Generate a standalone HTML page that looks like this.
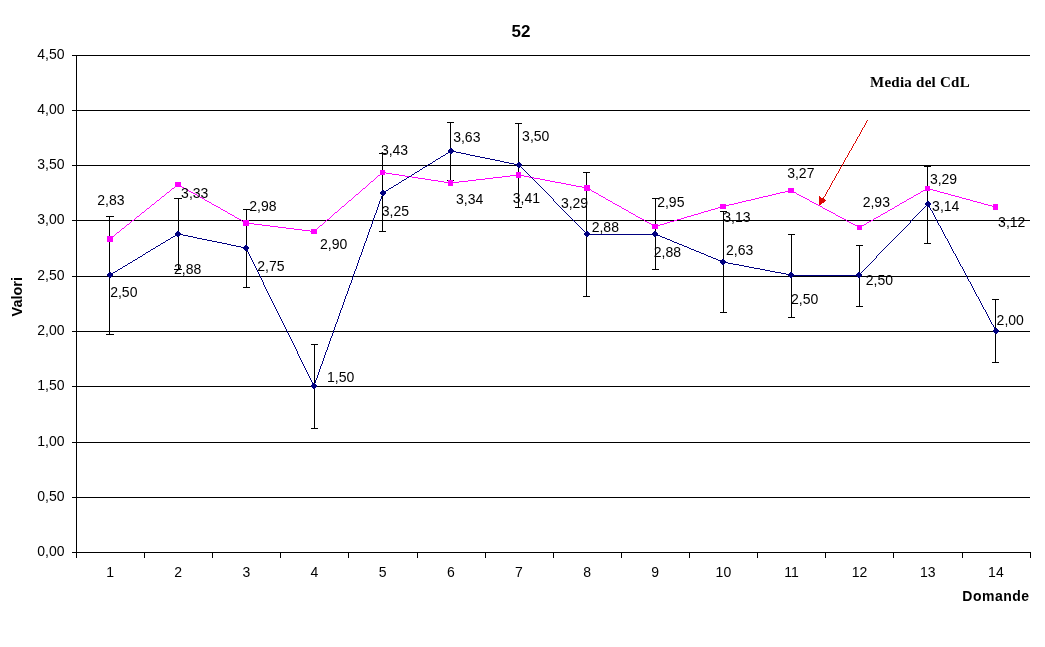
<!DOCTYPE html><html><head><meta charset="utf-8"><style>html,body{margin:0;padding:0;background:#fff;}svg{display:block;will-change:transform;}text{font-family:"Liberation Sans",sans-serif;}</style></head><body>
<svg width="1045" height="647" viewBox="0 0 1045 647">
<rect x="0" y="0" width="1045" height="647" fill="#fff"/>
<g shape-rendering="crispEdges" stroke="#000" stroke-width="1" fill="none">
<line x1="72" y1="55.5" x2="1030" y2="55.5"/>
<line x1="72" y1="110.5" x2="1030" y2="110.5"/>
<line x1="72" y1="165.5" x2="1030" y2="165.5"/>
<line x1="72" y1="220.5" x2="1030" y2="220.5"/>
<line x1="72" y1="276.5" x2="1030" y2="276.5"/>
<line x1="72" y1="331.5" x2="1030" y2="331.5"/>
<line x1="72" y1="386.5" x2="1030" y2="386.5"/>
<line x1="72" y1="442.5" x2="1030" y2="442.5"/>
<line x1="72" y1="497.5" x2="1030" y2="497.5"/>
<line x1="72" y1="552.5" x2="1031" y2="552.5"/>
<line x1="76.5" y1="55" x2="76.5" y2="558"/>
<line x1="144.5" y1="552" x2="144.5" y2="558"/>
<line x1="212.5" y1="552" x2="212.5" y2="558"/>
<line x1="280.5" y1="552" x2="280.5" y2="558"/>
<line x1="348.5" y1="552" x2="348.5" y2="558"/>
<line x1="417.5" y1="552" x2="417.5" y2="558"/>
<line x1="485.5" y1="552" x2="485.5" y2="558"/>
<line x1="553.5" y1="552" x2="553.5" y2="558"/>
<line x1="621.5" y1="552" x2="621.5" y2="558"/>
<line x1="689.5" y1="552" x2="689.5" y2="558"/>
<line x1="757.5" y1="552" x2="757.5" y2="558"/>
<line x1="825.5" y1="552" x2="825.5" y2="558"/>
<line x1="893.5" y1="552" x2="893.5" y2="558"/>
<line x1="962.5" y1="552" x2="962.5" y2="558"/>
<line x1="1030.5" y1="552" x2="1030.5" y2="558"/>
<line x1="109.5" y1="216.5" x2="109.5" y2="334.5"/>
<line x1="106" y1="216.5" x2="114" y2="216.5"/>
<line x1="106" y1="334.5" x2="114" y2="334.5"/>
<line x1="178.5" y1="198.5" x2="178.5" y2="269.5"/>
<line x1="174" y1="198.5" x2="182" y2="198.5"/>
<line x1="174" y1="269.5" x2="182" y2="269.5"/>
<line x1="246.5" y1="209.5" x2="246.5" y2="287.5"/>
<line x1="243" y1="209.5" x2="250" y2="209.5"/>
<line x1="243" y1="287.5" x2="250" y2="287.5"/>
<line x1="314.5" y1="344.5" x2="314.5" y2="428.5"/>
<line x1="311" y1="344.5" x2="318" y2="344.5"/>
<line x1="311" y1="428.5" x2="318" y2="428.5"/>
<line x1="382.5" y1="153.5" x2="382.5" y2="231.5"/>
<line x1="379" y1="153.5" x2="386" y2="153.5"/>
<line x1="379" y1="231.5" x2="386" y2="231.5"/>
<line x1="450.5" y1="122.5" x2="450.5" y2="180.5"/>
<line x1="447" y1="122.5" x2="454" y2="122.5"/>
<line x1="447" y1="180.5" x2="454" y2="180.5"/>
<line x1="518.5" y1="123.5" x2="518.5" y2="207.5"/>
<line x1="515" y1="123.5" x2="522" y2="123.5"/>
<line x1="515" y1="207.5" x2="522" y2="207.5"/>
<line x1="586.5" y1="172.5" x2="586.5" y2="296.5"/>
<line x1="583" y1="172.5" x2="590" y2="172.5"/>
<line x1="583" y1="296.5" x2="590" y2="296.5"/>
<line x1="655.5" y1="198.5" x2="655.5" y2="269.5"/>
<line x1="652" y1="198.5" x2="659" y2="198.5"/>
<line x1="652" y1="269.5" x2="659" y2="269.5"/>
<line x1="723.5" y1="211.5" x2="723.5" y2="312.5"/>
<line x1="720" y1="211.5" x2="727" y2="211.5"/>
<line x1="720" y1="312.5" x2="727" y2="312.5"/>
<line x1="791.5" y1="234.5" x2="791.5" y2="317.5"/>
<line x1="788" y1="234.5" x2="795" y2="234.5"/>
<line x1="788" y1="317.5" x2="795" y2="317.5"/>
<line x1="859.5" y1="245.5" x2="859.5" y2="306.5"/>
<line x1="856" y1="245.5" x2="863" y2="245.5"/>
<line x1="856" y1="306.5" x2="863" y2="306.5"/>
<line x1="927.5" y1="166.5" x2="927.5" y2="243.5"/>
<line x1="924" y1="166.5" x2="931" y2="166.5"/>
<line x1="924" y1="243.5" x2="931" y2="243.5"/>
<line x1="995.5" y1="299.5" x2="995.5" y2="362.5"/>
<line x1="992" y1="299.5" x2="999" y2="299.5"/>
<line x1="992" y1="362.5" x2="999" y2="362.5"/>
</g>
<path d="M382 172h4v1h-4zM381 173h1v1h-1zM386 173h6v1h-6zM380 174h1v1h-1zM392 174h7v1h-7zM378 175h2v1h-2zM399 175h6v1h-6zM510 175h14v1h-14zM377 176h1v1h-1zM405 176h7v1h-7zM502 176h8v1h-8zM524 176h5v1h-5zM376 177h1v1h-1zM412 177h6v1h-6zM493 177h9v1h-9zM529 177h5v1h-5zM375 178h1v1h-1zM418 178h7v1h-7zM485 178h8v1h-8zM534 178h6v1h-6zM374 179h1v1h-1zM425 179h6v1h-6zM476 179h9v1h-9zM540 179h5v1h-5zM373 180h1v1h-1zM431 180h7v1h-7zM468 180h8v1h-8zM545 180h5v1h-5zM371 181h2v1h-2zM438 181h6v1h-6zM459 181h9v1h-9zM550 181h5v1h-5zM370 182h1v1h-1zM444 182h6v1h-6zM451 182h8v1h-8zM555 182h6v1h-6zM369 183h1v1h-1zM450 183h1v1h-1zM561 183h5v1h-5zM177 184h2v1h-2zM368 184h1v1h-1zM566 184h5v1h-5zM176 185h1v1h-1zM179 185h2v1h-2zM367 185h1v1h-1zM571 185h5v1h-5zM175 186h1v1h-1zM181 186h1v1h-1zM366 186h1v1h-1zM576 186h6v1h-6zM174 187h1v1h-1zM182 187h2v1h-2zM365 187h1v1h-1zM582 187h5v1h-5zM172 188h2v1h-2zM184 188h2v1h-2zM363 188h2v1h-2zM587 188h2v1h-2zM927 188h2v1h-2zM171 189h1v1h-1zM186 189h2v1h-2zM362 189h1v1h-1zM589 189h2v1h-2zM925 189h2v1h-2zM929 189h4v1h-4zM170 190h1v1h-1zM188 190h1v1h-1zM361 190h1v1h-1zM591 190h1v1h-1zM789 190h3v1h-3zM923 190h2v1h-2zM933 190h4v1h-4zM169 191h1v1h-1zM189 191h2v1h-2zM360 191h1v1h-1zM592 191h2v1h-2zM785 191h4v1h-4zM792 191h2v1h-2zM921 191h2v1h-2zM937 191h3v1h-3zM167 192h2v1h-2zM191 192h2v1h-2zM359 192h1v1h-1zM594 192h2v1h-2zM780 192h5v1h-5zM794 192h2v1h-2zM920 192h1v1h-1zM940 192h4v1h-4zM166 193h1v1h-1zM193 193h2v1h-2zM358 193h1v1h-1zM596 193h2v1h-2zM776 193h4v1h-4zM796 193h1v1h-1zM918 193h2v1h-2zM944 193h4v1h-4zM165 194h1v1h-1zM195 194h2v1h-2zM356 194h2v1h-2zM598 194h1v1h-1zM772 194h4v1h-4zM797 194h2v1h-2zM916 194h2v1h-2zM948 194h3v1h-3zM164 195h1v1h-1zM197 195h1v1h-1zM355 195h1v1h-1zM599 195h2v1h-2zM768 195h4v1h-4zM799 195h2v1h-2zM914 195h2v1h-2zM951 195h4v1h-4zM162 196h2v1h-2zM198 196h2v1h-2zM354 196h1v1h-1zM601 196h2v1h-2zM763 196h5v1h-5zM801 196h2v1h-2zM913 196h1v1h-1zM955 196h4v1h-4zM161 197h1v1h-1zM200 197h2v1h-2zM353 197h1v1h-1zM603 197h2v1h-2zM759 197h4v1h-4zM803 197h2v1h-2zM911 197h2v1h-2zM959 197h3v1h-3zM160 198h1v1h-1zM202 198h2v1h-2zM352 198h1v1h-1zM605 198h1v1h-1zM755 198h4v1h-4zM805 198h2v1h-2zM909 198h2v1h-2zM962 198h4v1h-4zM159 199h1v1h-1zM204 199h1v1h-1zM351 199h1v1h-1zM606 199h2v1h-2zM751 199h4v1h-4zM807 199h2v1h-2zM907 199h2v1h-2zM966 199h4v1h-4zM157 200h2v1h-2zM205 200h2v1h-2zM349 200h2v1h-2zM608 200h2v1h-2zM746 200h5v1h-5zM809 200h1v1h-1zM906 200h1v1h-1zM970 200h3v1h-3zM156 201h1v1h-1zM207 201h2v1h-2zM348 201h1v1h-1zM610 201h2v1h-2zM742 201h4v1h-4zM810 201h2v1h-2zM904 201h2v1h-2zM973 201h4v1h-4zM155 202h1v1h-1zM209 202h2v1h-2zM347 202h1v1h-1zM612 202h1v1h-1zM738 202h4v1h-4zM812 202h2v1h-2zM902 202h2v1h-2zM977 202h4v1h-4zM154 203h1v1h-1zM211 203h1v1h-1zM346 203h1v1h-1zM613 203h2v1h-2zM734 203h4v1h-4zM814 203h2v1h-2zM900 203h2v1h-2zM981 203h3v1h-3zM152 204h2v1h-2zM212 204h2v1h-2zM345 204h1v1h-1zM615 204h2v1h-2zM729 204h5v1h-5zM816 204h2v1h-2zM899 204h1v1h-1zM984 204h4v1h-4zM151 205h1v1h-1zM214 205h2v1h-2zM344 205h1v1h-1zM617 205h2v1h-2zM725 205h4v1h-4zM818 205h2v1h-2zM897 205h2v1h-2zM988 205h4v1h-4zM150 206h1v1h-1zM216 206h2v1h-2zM342 206h2v1h-2zM619 206h2v1h-2zM721 206h4v1h-4zM820 206h2v1h-2zM895 206h2v1h-2zM992 206h3v1h-3zM149 207h1v1h-1zM218 207h2v1h-2zM341 207h1v1h-1zM621 207h1v1h-1zM718 207h3v1h-3zM822 207h1v1h-1zM894 207h1v1h-1zM995 207h1v1h-1zM147 208h2v1h-2zM220 208h1v1h-1zM340 208h1v1h-1zM622 208h2v1h-2zM715 208h3v1h-3zM823 208h2v1h-2zM892 208h2v1h-2zM146 209h1v1h-1zM221 209h2v1h-2zM339 209h1v1h-1zM624 209h2v1h-2zM711 209h4v1h-4zM825 209h2v1h-2zM890 209h2v1h-2zM145 210h1v1h-1zM223 210h2v1h-2zM338 210h1v1h-1zM626 210h2v1h-2zM708 210h3v1h-3zM827 210h2v1h-2zM888 210h2v1h-2zM144 211h1v1h-1zM225 211h2v1h-2zM337 211h1v1h-1zM628 211h1v1h-1zM704 211h4v1h-4zM829 211h2v1h-2zM887 211h1v1h-1zM142 212h2v1h-2zM227 212h1v1h-1zM335 212h2v1h-2zM629 212h2v1h-2zM701 212h3v1h-3zM831 212h2v1h-2zM885 212h2v1h-2zM141 213h1v1h-1zM228 213h2v1h-2zM334 213h1v1h-1zM631 213h2v1h-2zM698 213h3v1h-3zM833 213h2v1h-2zM883 213h2v1h-2zM140 214h1v1h-1zM230 214h2v1h-2zM333 214h1v1h-1zM633 214h2v1h-2zM694 214h4v1h-4zM835 214h1v1h-1zM881 214h2v1h-2zM139 215h1v1h-1zM232 215h2v1h-2zM332 215h1v1h-1zM635 215h1v1h-1zM691 215h3v1h-3zM836 215h2v1h-2zM880 215h1v1h-1zM137 216h2v1h-2zM234 216h1v1h-1zM331 216h1v1h-1zM636 216h2v1h-2zM687 216h4v1h-4zM838 216h2v1h-2zM878 216h2v1h-2zM136 217h1v1h-1zM235 217h2v1h-2zM330 217h1v1h-1zM638 217h2v1h-2zM684 217h3v1h-3zM840 217h2v1h-2zM876 217h2v1h-2zM135 218h1v1h-1zM237 218h2v1h-2zM329 218h1v1h-1zM640 218h2v1h-2zM681 218h3v1h-3zM842 218h2v1h-2zM874 218h2v1h-2zM134 219h1v1h-1zM239 219h2v1h-2zM327 219h2v1h-2zM642 219h2v1h-2zM677 219h4v1h-4zM844 219h2v1h-2zM873 219h1v1h-1zM132 220h2v1h-2zM241 220h1v1h-1zM326 220h1v1h-1zM644 220h1v1h-1zM674 220h3v1h-3zM846 220h1v1h-1zM871 220h2v1h-2zM131 221h1v1h-1zM242 221h2v1h-2zM325 221h1v1h-1zM645 221h2v1h-2zM670 221h4v1h-4zM847 221h2v1h-2zM869 221h2v1h-2zM130 222h1v1h-1zM244 222h2v1h-2zM324 222h1v1h-1zM647 222h2v1h-2zM667 222h3v1h-3zM849 222h2v1h-2zM867 222h2v1h-2zM129 223h1v1h-1zM246 223h8v1h-8zM323 223h1v1h-1zM649 223h2v1h-2zM664 223h3v1h-3zM851 223h2v1h-2zM866 223h1v1h-1zM127 224h2v1h-2zM254 224h8v1h-8zM322 224h1v1h-1zM651 224h1v1h-1zM660 224h4v1h-4zM853 224h2v1h-2zM864 224h2v1h-2zM126 225h1v1h-1zM262 225h8v1h-8zM320 225h2v1h-2zM652 225h2v1h-2zM657 225h3v1h-3zM855 225h2v1h-2zM862 225h2v1h-2zM125 226h1v1h-1zM270 226h8v1h-8zM319 226h1v1h-1zM654 226h3v1h-3zM857 226h2v1h-2zM860 226h2v1h-2zM124 227h1v1h-1zM278 227h8v1h-8zM318 227h1v1h-1zM859 227h1v1h-1zM122 228h2v1h-2zM286 228h8v1h-8zM317 228h1v1h-1zM121 229h1v1h-1zM294 229h8v1h-8zM316 229h1v1h-1zM120 230h1v1h-1zM302 230h8v1h-8zM315 230h1v1h-1zM119 231h1v1h-1zM310 231h5v1h-5zM117 232h2v1h-2zM116 233h1v1h-1zM115 234h1v1h-1zM114 235h1v1h-1zM112 236h2v1h-2zM111 237h1v1h-1zM110 238h1v1h-1z" fill="#ff00ff" shape-rendering="crispEdges"/>
<path d="M451 150h1v1h-1zM449 151h7v1h-7zM448 152h1v1h-1zM456 152h5v1h-5zM446 153h2v1h-2zM461 153h5v1h-5zM445 154h1v1h-1zM466 154h4v1h-4zM443 155h2v1h-2zM470 155h5v1h-5zM441 156h2v1h-2zM475 156h5v1h-5zM440 157h1v1h-1zM480 157h5v1h-5zM438 158h2v1h-2zM485 158h5v1h-5zM436 159h2v1h-2zM490 159h5v1h-5zM435 160h1v1h-1zM495 160h5v1h-5zM433 161h2v1h-2zM500 161h4v1h-4zM432 162h1v1h-1zM504 162h5v1h-5zM430 163h2v1h-2zM509 163h5v1h-5zM428 164h2v1h-2zM514 164h5v1h-5zM427 165h1v1h-1zM519 165h1v1h-1zM425 166h2v1h-2zM520 166h1v1h-1zM423 167h2v1h-2zM521 167h1v1h-1zM422 168h1v1h-1zM522 168h1v1h-1zM420 169h2v1h-2zM523 169h1v1h-1zM419 170h1v1h-1zM524 170h1v1h-1zM417 171h2v1h-2zM525 171h1v1h-1zM415 172h2v1h-2zM526 172h1v1h-1zM414 173h1v1h-1zM527 173h1v1h-1zM412 174h2v1h-2zM528 174h1v1h-1zM411 175h1v1h-1zM529 175h1v1h-1zM409 176h2v1h-2zM530 176h1v1h-1zM407 177h2v1h-2zM531 177h1v1h-1zM406 178h1v1h-1zM532 178h1v1h-1zM404 179h2v1h-2zM533 179h1v1h-1zM402 180h2v1h-2zM534 180h1v1h-1zM401 181h1v1h-1zM535 181h1v1h-1zM399 182h2v1h-2zM536 182h1v1h-1zM398 183h1v1h-1zM537 183h1v1h-1zM396 184h2v1h-2zM538 184h1v1h-1zM394 185h2v1h-2zM539 185h1v1h-1zM393 186h1v1h-1zM540 186h1v1h-1zM391 187h2v1h-2zM541 187h1v1h-1zM389 188h2v1h-2zM542 188h1v1h-1zM388 189h1v1h-1zM543 189h1v1h-1zM386 190h2v1h-2zM544 190h1v1h-1zM385 191h1v1h-1zM545 191h1v1h-1zM383 192h2v1h-2zM546 192h1v1h-1zM382 193h1v1h-1zM547 193h1v1h-1zM382 194h1v1h-1zM548 194h1v1h-1zM382 195h1v1h-1zM549 195h1v1h-1zM381 196h1v1h-1zM550 196h1v1h-1zM381 197h1v1h-1zM551 197h1v1h-1zM381 198h1v1h-1zM552 198h1v1h-1zM380 199h1v1h-1zM553 199h1v1h-1zM380 200h1v1h-1zM553 200h1v1h-1zM379 201h1v1h-1zM554 201h1v1h-1zM379 202h1v1h-1zM555 202h1v1h-1zM379 203h1v1h-1zM556 203h1v1h-1zM378 204h1v1h-1zM557 204h1v1h-1zM927 204h2v1h-2zM378 205h1v1h-1zM558 205h1v1h-1zM926 205h1v1h-1zM928 205h1v1h-1zM378 206h1v1h-1zM559 206h1v1h-1zM925 206h1v1h-1zM929 206h1v1h-1zM377 207h1v1h-1zM560 207h1v1h-1zM924 207h1v1h-1zM929 207h1v1h-1zM377 208h1v1h-1zM561 208h1v1h-1zM923 208h1v1h-1zM930 208h1v1h-1zM377 209h1v1h-1zM562 209h1v1h-1zM922 209h1v1h-1zM930 209h1v1h-1zM376 210h1v1h-1zM563 210h1v1h-1zM921 210h1v1h-1zM931 210h1v1h-1zM376 211h1v1h-1zM564 211h1v1h-1zM920 211h1v1h-1zM932 211h1v1h-1zM376 212h1v1h-1zM565 212h1v1h-1zM919 212h1v1h-1zM932 212h1v1h-1zM375 213h1v1h-1zM566 213h1v1h-1zM918 213h1v1h-1zM933 213h1v1h-1zM375 214h1v1h-1zM567 214h1v1h-1zM917 214h1v1h-1zM933 214h1v1h-1zM374 215h1v1h-1zM568 215h1v1h-1zM916 215h1v1h-1zM934 215h1v1h-1zM374 216h1v1h-1zM569 216h1v1h-1zM915 216h1v1h-1zM934 216h1v1h-1zM374 217h1v1h-1zM570 217h1v1h-1zM914 217h1v1h-1zM935 217h1v1h-1zM373 218h1v1h-1zM571 218h1v1h-1zM913 218h1v1h-1zM935 218h1v1h-1zM373 219h1v1h-1zM572 219h1v1h-1zM912 219h1v1h-1zM936 219h1v1h-1zM373 220h1v1h-1zM573 220h1v1h-1zM911 220h1v1h-1zM936 220h1v1h-1zM372 221h1v1h-1zM574 221h1v1h-1zM910 221h1v1h-1zM937 221h1v1h-1zM372 222h1v1h-1zM575 222h1v1h-1zM910 222h1v1h-1zM937 222h1v1h-1zM372 223h1v1h-1zM576 223h1v1h-1zM909 223h1v1h-1zM938 223h1v1h-1zM371 224h1v1h-1zM577 224h1v1h-1zM908 224h1v1h-1zM938 224h1v1h-1zM371 225h1v1h-1zM578 225h1v1h-1zM907 225h1v1h-1zM939 225h1v1h-1zM371 226h1v1h-1zM579 226h1v1h-1zM906 226h1v1h-1zM940 226h1v1h-1zM370 227h1v1h-1zM580 227h1v1h-1zM905 227h1v1h-1zM940 227h1v1h-1zM370 228h1v1h-1zM581 228h1v1h-1zM904 228h1v1h-1zM941 228h1v1h-1zM369 229h1v1h-1zM582 229h1v1h-1zM903 229h1v1h-1zM941 229h1v1h-1zM369 230h1v1h-1zM583 230h1v1h-1zM902 230h1v1h-1zM942 230h1v1h-1zM369 231h1v1h-1zM584 231h1v1h-1zM901 231h1v1h-1zM942 231h1v1h-1zM368 232h1v1h-1zM585 232h1v1h-1zM900 232h1v1h-1zM943 232h1v1h-1zM178 233h1v1h-1zM368 233h1v1h-1zM586 233h1v1h-1zM899 233h1v1h-1zM943 233h1v1h-1zM176 234h7v1h-7zM368 234h1v1h-1zM587 234h70v1h-70zM898 234h1v1h-1zM944 234h1v1h-1zM175 235h1v1h-1zM183 235h5v1h-5zM367 235h1v1h-1zM657 235h3v1h-3zM897 235h1v1h-1zM944 235h1v1h-1zM173 236h2v1h-2zM188 236h5v1h-5zM367 236h1v1h-1zM660 236h2v1h-2zM896 236h1v1h-1zM945 236h1v1h-1zM171 237h2v1h-2zM193 237h4v1h-4zM367 237h1v1h-1zM662 237h3v1h-3zM895 237h1v1h-1zM945 237h1v1h-1zM170 238h1v1h-1zM197 238h5v1h-5zM366 238h1v1h-1zM665 238h2v1h-2zM894 238h1v1h-1zM946 238h1v1h-1zM168 239h2v1h-2zM202 239h5v1h-5zM366 239h1v1h-1zM667 239h3v1h-3zM893 239h1v1h-1zM947 239h1v1h-1zM166 240h2v1h-2zM207 240h5v1h-5zM366 240h1v1h-1zM670 240h2v1h-2zM892 240h1v1h-1zM947 240h1v1h-1zM165 241h1v1h-1zM212 241h5v1h-5zM365 241h1v1h-1zM672 241h2v1h-2zM891 241h1v1h-1zM948 241h1v1h-1zM163 242h2v1h-2zM217 242h5v1h-5zM365 242h1v1h-1zM674 242h3v1h-3zM890 242h1v1h-1zM948 242h1v1h-1zM161 243h2v1h-2zM222 243h5v1h-5zM364 243h1v1h-1zM677 243h2v1h-2zM889 243h1v1h-1zM949 243h1v1h-1zM160 244h1v1h-1zM227 244h4v1h-4zM364 244h1v1h-1zM679 244h3v1h-3zM888 244h1v1h-1zM949 244h1v1h-1zM158 245h2v1h-2zM231 245h5v1h-5zM364 245h1v1h-1zM682 245h2v1h-2zM887 245h1v1h-1zM950 245h1v1h-1zM156 246h2v1h-2zM236 246h5v1h-5zM363 246h1v1h-1zM684 246h3v1h-3zM886 246h1v1h-1zM950 246h1v1h-1zM155 247h1v1h-1zM241 247h5v1h-5zM363 247h1v1h-1zM687 247h2v1h-2zM885 247h1v1h-1zM951 247h1v1h-1zM153 248h2v1h-2zM246 248h1v1h-1zM363 248h1v1h-1zM689 248h2v1h-2zM884 248h1v1h-1zM951 248h1v1h-1zM151 249h2v1h-2zM246 249h1v1h-1zM362 249h1v1h-1zM691 249h3v1h-3zM883 249h1v1h-1zM952 249h1v1h-1zM150 250h1v1h-1zM247 250h1v1h-1zM362 250h1v1h-1zM694 250h2v1h-2zM882 250h1v1h-1zM952 250h1v1h-1zM148 251h2v1h-2zM247 251h1v1h-1zM362 251h1v1h-1zM696 251h3v1h-3zM881 251h1v1h-1zM953 251h1v1h-1zM146 252h2v1h-2zM248 252h1v1h-1zM361 252h1v1h-1zM699 252h2v1h-2zM880 252h1v1h-1zM953 252h1v1h-1zM145 253h1v1h-1zM248 253h1v1h-1zM361 253h1v1h-1zM701 253h3v1h-3zM879 253h1v1h-1zM954 253h1v1h-1zM143 254h2v1h-2zM249 254h1v1h-1zM361 254h1v1h-1zM704 254h2v1h-2zM878 254h1v1h-1zM955 254h1v1h-1zM142 255h1v1h-1zM249 255h1v1h-1zM360 255h1v1h-1zM706 255h2v1h-2zM877 255h1v1h-1zM955 255h1v1h-1zM140 256h2v1h-2zM250 256h1v1h-1zM360 256h1v1h-1zM708 256h3v1h-3zM876 256h1v1h-1zM956 256h1v1h-1zM138 257h2v1h-2zM250 257h1v1h-1zM359 257h1v1h-1zM711 257h2v1h-2zM876 257h1v1h-1zM956 257h1v1h-1zM137 258h1v1h-1zM251 258h1v1h-1zM359 258h1v1h-1zM713 258h3v1h-3zM875 258h1v1h-1zM957 258h1v1h-1zM135 259h2v1h-2zM251 259h1v1h-1zM359 259h1v1h-1zM716 259h2v1h-2zM874 259h1v1h-1zM957 259h1v1h-1zM133 260h2v1h-2zM252 260h1v1h-1zM358 260h1v1h-1zM718 260h3v1h-3zM873 260h1v1h-1zM958 260h1v1h-1zM132 261h1v1h-1zM252 261h1v1h-1zM358 261h1v1h-1zM721 261h2v1h-2zM872 261h1v1h-1zM958 261h1v1h-1zM130 262h2v1h-2zM253 262h1v1h-1zM358 262h1v1h-1zM723 262h5v1h-5zM871 262h1v1h-1zM959 262h1v1h-1zM128 263h2v1h-2zM253 263h1v1h-1zM357 263h1v1h-1zM728 263h5v1h-5zM870 263h1v1h-1zM959 263h1v1h-1zM127 264h1v1h-1zM254 264h1v1h-1zM357 264h1v1h-1zM733 264h6v1h-6zM869 264h1v1h-1zM960 264h1v1h-1zM125 265h2v1h-2zM254 265h1v1h-1zM357 265h1v1h-1zM739 265h5v1h-5zM868 265h1v1h-1zM960 265h1v1h-1zM123 266h2v1h-2zM255 266h1v1h-1zM356 266h1v1h-1zM744 266h5v1h-5zM867 266h1v1h-1zM961 266h1v1h-1zM122 267h1v1h-1zM255 267h1v1h-1zM356 267h1v1h-1zM749 267h5v1h-5zM866 267h1v1h-1zM962 267h1v1h-1zM120 268h2v1h-2zM256 268h1v1h-1zM356 268h1v1h-1zM754 268h6v1h-6zM865 268h1v1h-1zM962 268h1v1h-1zM118 269h2v1h-2zM256 269h1v1h-1zM355 269h1v1h-1zM760 269h5v1h-5zM864 269h1v1h-1zM963 269h1v1h-1zM117 270h1v1h-1zM257 270h1v1h-1zM355 270h1v1h-1zM765 270h5v1h-5zM863 270h1v1h-1zM963 270h1v1h-1zM115 271h2v1h-2zM257 271h1v1h-1zM354 271h1v1h-1zM770 271h5v1h-5zM862 271h1v1h-1zM964 271h1v1h-1zM113 272h2v1h-2zM258 272h1v1h-1zM354 272h1v1h-1zM775 272h6v1h-6zM861 272h1v1h-1zM964 272h1v1h-1zM112 273h1v1h-1zM258 273h1v1h-1zM354 273h1v1h-1zM781 273h5v1h-5zM860 273h1v1h-1zM965 273h1v1h-1zM110 274h2v1h-2zM259 274h1v1h-1zM353 274h1v1h-1zM786 274h5v1h-5zM859 274h1v1h-1zM965 274h1v1h-1zM259 275h1v1h-1zM353 275h1v1h-1zM791 275h69v1h-69zM966 275h1v1h-1zM260 276h1v1h-1zM353 276h1v1h-1zM966 276h1v1h-1zM260 277h1v1h-1zM352 277h1v1h-1zM967 277h1v1h-1zM261 278h1v1h-1zM352 278h1v1h-1zM967 278h1v1h-1zM261 279h1v1h-1zM352 279h1v1h-1zM968 279h1v1h-1zM262 280h1v1h-1zM351 280h1v1h-1zM968 280h1v1h-1zM262 281h1v1h-1zM351 281h1v1h-1zM969 281h1v1h-1zM263 282h1v1h-1zM351 282h1v1h-1zM970 282h1v1h-1zM263 283h1v1h-1zM350 283h1v1h-1zM970 283h1v1h-1zM263 284h1v1h-1zM350 284h1v1h-1zM971 284h1v1h-1zM264 285h1v1h-1zM349 285h1v1h-1zM971 285h1v1h-1zM264 286h1v1h-1zM349 286h1v1h-1zM972 286h1v1h-1zM265 287h1v1h-1zM349 287h1v1h-1zM972 287h1v1h-1zM265 288h1v1h-1zM348 288h1v1h-1zM973 288h1v1h-1zM266 289h1v1h-1zM348 289h1v1h-1zM973 289h1v1h-1zM266 290h1v1h-1zM348 290h1v1h-1zM974 290h1v1h-1zM267 291h1v1h-1zM347 291h1v1h-1zM974 291h1v1h-1zM267 292h1v1h-1zM347 292h1v1h-1zM975 292h1v1h-1zM268 293h1v1h-1zM347 293h1v1h-1zM975 293h1v1h-1zM268 294h1v1h-1zM346 294h1v1h-1zM976 294h1v1h-1zM269 295h1v1h-1zM346 295h1v1h-1zM976 295h1v1h-1zM269 296h1v1h-1zM345 296h1v1h-1zM977 296h1v1h-1zM270 297h1v1h-1zM345 297h1v1h-1zM978 297h1v1h-1zM270 298h1v1h-1zM345 298h1v1h-1zM978 298h1v1h-1zM271 299h1v1h-1zM344 299h1v1h-1zM979 299h1v1h-1zM271 300h1v1h-1zM344 300h1v1h-1zM979 300h1v1h-1zM272 301h1v1h-1zM344 301h1v1h-1zM980 301h1v1h-1zM272 302h1v1h-1zM343 302h1v1h-1zM980 302h1v1h-1zM273 303h1v1h-1zM343 303h1v1h-1zM981 303h1v1h-1zM273 304h1v1h-1zM343 304h1v1h-1zM981 304h1v1h-1zM274 305h1v1h-1zM342 305h1v1h-1zM982 305h1v1h-1zM274 306h1v1h-1zM342 306h1v1h-1zM982 306h1v1h-1zM275 307h1v1h-1zM342 307h1v1h-1zM983 307h1v1h-1zM275 308h1v1h-1zM341 308h1v1h-1zM983 308h1v1h-1zM276 309h1v1h-1zM341 309h1v1h-1zM984 309h1v1h-1zM276 310h1v1h-1zM340 310h1v1h-1zM985 310h1v1h-1zM277 311h1v1h-1zM340 311h1v1h-1zM985 311h1v1h-1zM277 312h1v1h-1zM340 312h1v1h-1zM986 312h1v1h-1zM278 313h1v1h-1zM339 313h1v1h-1zM986 313h1v1h-1zM278 314h1v1h-1zM339 314h1v1h-1zM987 314h1v1h-1zM279 315h1v1h-1zM339 315h1v1h-1zM987 315h1v1h-1zM279 316h1v1h-1zM338 316h1v1h-1zM988 316h1v1h-1zM280 317h1v1h-1zM338 317h1v1h-1zM988 317h1v1h-1zM280 318h1v1h-1zM338 318h1v1h-1zM989 318h1v1h-1zM281 319h1v1h-1zM337 319h1v1h-1zM989 319h1v1h-1zM281 320h1v1h-1zM337 320h1v1h-1zM990 320h1v1h-1zM282 321h1v1h-1zM337 321h1v1h-1zM990 321h1v1h-1zM282 322h1v1h-1zM336 322h1v1h-1zM991 322h1v1h-1zM283 323h1v1h-1zM336 323h1v1h-1zM991 323h1v1h-1zM283 324h1v1h-1zM335 324h1v1h-1zM992 324h1v1h-1zM284 325h1v1h-1zM335 325h1v1h-1zM993 325h1v1h-1zM284 326h1v1h-1zM335 326h1v1h-1zM993 326h1v1h-1zM285 327h1v1h-1zM334 327h1v1h-1zM994 327h1v1h-1zM285 328h1v1h-1zM334 328h1v1h-1zM994 328h1v1h-1zM286 329h1v1h-1zM334 329h1v1h-1zM995 329h1v1h-1zM286 330h1v1h-1zM333 330h1v1h-1zM995 330h1v1h-1zM287 331h1v1h-1zM333 331h1v1h-1zM996 331h1v1h-1zM287 332h1v1h-1zM333 332h1v1h-1zM288 333h1v1h-1zM332 333h1v1h-1zM288 334h1v1h-1zM332 334h1v1h-1zM289 335h1v1h-1zM332 335h1v1h-1zM289 336h1v1h-1zM331 336h1v1h-1zM290 337h1v1h-1zM331 337h1v1h-1zM290 338h1v1h-1zM330 338h1v1h-1zM291 339h1v1h-1zM330 339h1v1h-1zM291 340h1v1h-1zM330 340h1v1h-1zM292 341h1v1h-1zM329 341h1v1h-1zM292 342h1v1h-1zM329 342h1v1h-1zM293 343h1v1h-1zM329 343h1v1h-1zM293 344h1v1h-1zM328 344h1v1h-1zM294 345h1v1h-1zM328 345h1v1h-1zM294 346h1v1h-1zM328 346h1v1h-1zM295 347h1v1h-1zM327 347h1v1h-1zM295 348h1v1h-1zM327 348h1v1h-1zM296 349h1v1h-1zM327 349h1v1h-1zM296 350h1v1h-1zM326 350h1v1h-1zM297 351h1v1h-1zM326 351h1v1h-1zM297 352h1v1h-1zM325 352h1v1h-1zM297 353h1v1h-1zM325 353h1v1h-1zM298 354h1v1h-1zM325 354h1v1h-1zM298 355h1v1h-1zM324 355h1v1h-1zM299 356h1v1h-1zM324 356h1v1h-1zM299 357h1v1h-1zM324 357h1v1h-1zM300 358h1v1h-1zM323 358h1v1h-1zM300 359h1v1h-1zM323 359h1v1h-1zM301 360h1v1h-1zM323 360h1v1h-1zM301 361h1v1h-1zM322 361h1v1h-1zM302 362h1v1h-1zM322 362h1v1h-1zM302 363h1v1h-1zM322 363h1v1h-1zM303 364h1v1h-1zM321 364h1v1h-1zM303 365h1v1h-1zM321 365h1v1h-1zM304 366h1v1h-1zM320 366h1v1h-1zM304 367h1v1h-1zM320 367h1v1h-1zM305 368h1v1h-1zM320 368h1v1h-1zM305 369h1v1h-1zM319 369h1v1h-1zM306 370h1v1h-1zM319 370h1v1h-1zM306 371h1v1h-1zM319 371h1v1h-1zM307 372h1v1h-1zM318 372h1v1h-1zM307 373h1v1h-1zM318 373h1v1h-1zM308 374h1v1h-1zM318 374h1v1h-1zM308 375h1v1h-1zM317 375h1v1h-1zM309 376h1v1h-1zM317 376h1v1h-1zM309 377h1v1h-1zM317 377h1v1h-1zM310 378h1v1h-1zM316 378h1v1h-1zM310 379h1v1h-1zM316 379h1v1h-1zM311 380h1v1h-1zM315 380h1v1h-1zM311 381h1v1h-1zM315 381h1v1h-1zM312 382h1v1h-1zM315 382h1v1h-1zM312 383h1v1h-1zM314 383h1v1h-1zM313 384h2v1h-2zM313 385h2v1h-2zM313 386h2v1h-2z" fill="#000080" shape-rendering="crispEdges"/>
<rect x="107" y="236" width="6" height="6" fill="#ff00ff" shape-rendering="crispEdges"/>
<rect x="175" y="182" width="6" height="5" fill="#ff00ff" shape-rendering="crispEdges"/>
<rect x="243" y="220" width="6" height="6" fill="#ff00ff" shape-rendering="crispEdges"/>
<rect x="311" y="229" width="6" height="5" fill="#ff00ff" shape-rendering="crispEdges"/>
<rect x="380" y="170" width="5" height="5" fill="#ff00ff" shape-rendering="crispEdges"/>
<rect x="448" y="180" width="5" height="6" fill="#ff00ff" shape-rendering="crispEdges"/>
<rect x="516" y="172" width="5" height="6" fill="#ff00ff" shape-rendering="crispEdges"/>
<rect x="584" y="185" width="6" height="6" fill="#ff00ff" shape-rendering="crispEdges"/>
<rect x="652" y="224" width="6" height="5" fill="#ff00ff" shape-rendering="crispEdges"/>
<rect x="720" y="204" width="6" height="5" fill="#ff00ff" shape-rendering="crispEdges"/>
<rect x="788" y="188" width="6" height="5" fill="#ff00ff" shape-rendering="crispEdges"/>
<rect x="857" y="225" width="5" height="5" fill="#ff00ff" shape-rendering="crispEdges"/>
<rect x="925" y="186" width="5" height="5" fill="#ff00ff" shape-rendering="crispEdges"/>
<rect x="993" y="204" width="5" height="6" fill="#ff00ff" shape-rendering="crispEdges"/>
<path d="M109 272h2v1h1v1h1v2h-1v1h-1v1h-2v-1h-1v-1h-1v-2h1v-1h1z" fill="#000080" shape-rendering="crispEdges"/>
<path d="M177 231h2v1h1v1h1v2h-1v1h-1v1h-2v-1h-1v-1h-1v-2h1v-1h1z" fill="#000080" shape-rendering="crispEdges"/>
<path d="M245 245h2v1h1v1h1v2h-1v1h-1v1h-2v-1h-1v-1h-1v-2h1v-1h1z" fill="#000080" shape-rendering="crispEdges"/>
<path d="M313 383h2v1h1v1h1v2h-1v1h-1v1h-2v-1h-1v-1h-1v-2h1v-1h1z" fill="#000080" shape-rendering="crispEdges"/>
<path d="M382 190h2v1h1v1h1v2h-1v1h-1v1h-2v-1h-1v-1h-1v-2h1v-1h1z" fill="#000080" shape-rendering="crispEdges"/>
<path d="M450 148h2v1h1v1h1v2h-1v1h-1v1h-2v-1h-1v-1h-1v-2h1v-1h1z" fill="#000080" shape-rendering="crispEdges"/>
<path d="M518 162h2v1h1v1h1v2h-1v1h-1v1h-2v-1h-1v-1h-1v-2h1v-1h1z" fill="#000080" shape-rendering="crispEdges"/>
<path d="M586 231h2v1h1v1h1v2h-1v1h-1v1h-2v-1h-1v-1h-1v-2h1v-1h1z" fill="#000080" shape-rendering="crispEdges"/>
<path d="M654 231h2v1h1v1h1v2h-1v1h-1v1h-2v-1h-1v-1h-1v-2h1v-1h1z" fill="#000080" shape-rendering="crispEdges"/>
<path d="M722 259h2v1h1v1h1v2h-1v1h-1v1h-2v-1h-1v-1h-1v-2h1v-1h1z" fill="#000080" shape-rendering="crispEdges"/>
<path d="M790 272h2v1h1v1h1v2h-1v1h-1v1h-2v-1h-1v-1h-1v-2h1v-1h1z" fill="#000080" shape-rendering="crispEdges"/>
<path d="M858 272h2v1h1v1h1v2h-1v1h-1v1h-2v-1h-1v-1h-1v-2h1v-1h1z" fill="#000080" shape-rendering="crispEdges"/>
<path d="M927 201h2v1h1v1h1v2h-1v1h-1v1h-2v-1h-1v-1h-1v-2h1v-1h1z" fill="#000080" shape-rendering="crispEdges"/>
<path d="M995 328h2v1h1v1h1v2h-1v1h-1v1h-2v-1h-1v-1h-1v-2h1v-1h1z" fill="#000080" shape-rendering="crispEdges"/>
<path d="M867 120h1v1h-1zM866 121h1v1h-1zM866 122h1v1h-1zM865 123h1v1h-1zM865 124h1v1h-1zM864 125h1v1h-1zM864 126h1v1h-1zM863 127h1v1h-1zM862 128h1v1h-1zM862 129h1v1h-1zM861 130h1v1h-1zM861 131h1v1h-1zM860 132h1v1h-1zM860 133h1v1h-1zM859 134h1v1h-1zM859 135h1v1h-1zM858 136h1v1h-1zM857 137h1v1h-1zM857 138h1v1h-1zM856 139h1v1h-1zM856 140h1v1h-1zM855 141h1v1h-1zM855 142h1v1h-1zM854 143h1v1h-1zM853 144h1v1h-1zM853 145h1v1h-1zM852 146h1v1h-1zM852 147h1v1h-1zM851 148h1v1h-1zM851 149h1v1h-1zM850 150h1v1h-1zM849 151h1v1h-1zM849 152h1v1h-1zM848 153h1v1h-1zM848 154h1v1h-1zM847 155h1v1h-1zM847 156h1v1h-1zM846 157h1v1h-1zM845 158h1v1h-1zM845 159h1v1h-1zM844 160h1v1h-1zM844 161h1v1h-1zM843 162h1v1h-1zM843 163h1v1h-1zM842 164h1v1h-1zM842 165h1v1h-1zM841 166h1v1h-1zM840 167h1v1h-1zM840 168h1v1h-1zM839 169h1v1h-1zM839 170h1v1h-1zM838 171h1v1h-1zM838 172h1v1h-1zM837 173h1v1h-1zM836 174h1v1h-1zM836 175h1v1h-1zM835 176h1v1h-1zM835 177h1v1h-1zM834 178h1v1h-1zM834 179h1v1h-1zM833 180h1v1h-1zM832 181h1v1h-1zM832 182h1v1h-1zM831 183h1v1h-1zM831 184h1v1h-1zM830 185h1v1h-1zM830 186h1v1h-1zM829 187h1v1h-1zM829 188h1v1h-1zM828 189h1v1h-1zM827 190h1v1h-1zM827 191h1v1h-1zM826 192h1v1h-1zM826 193h1v1h-1zM825 194h1v1h-1zM825 195h1v1h-1zM824 196h1v1h-1zM823 197h1v1h-1zM823 198h1v1h-1zM822 199h1v1h-1z" fill="#dd0804" shape-rendering="crispEdges"/>
<path d="M819 196L826.5 200.5L819.5 205.5Z" fill="#dd0804" shape-rendering="crispEdges"/>
<g font-size="14" fill="#000">
<text x="97.3" y="204.8">2,83</text>
<text x="181.1" y="197.8">3,33</text>
<text x="249.3" y="210.7">2,98</text>
<text x="320.0" y="249.0">2,90</text>
<text x="380.9" y="154.5">3,43</text>
<text x="456.0" y="203.7">3,34</text>
<text x="512.8" y="202.9">3,41</text>
<text x="560.9" y="207.7">3,29</text>
<text x="657.2" y="207.0">2,95</text>
<text x="723.3" y="222.2">3,13</text>
<text x="787.2" y="178.3">3,27</text>
<text x="862.7" y="206.7">2,93</text>
<text x="929.9" y="183.6">3,29</text>
<text x="998.1" y="226.7">3,12</text>
<text x="110.2" y="296.6">2,50</text>
<text x="174.0" y="274.1">2,88</text>
<text x="257.3" y="271.2">2,75</text>
<text x="327.0" y="382.0">1,50</text>
<text x="381.8" y="215.8">3,25</text>
<text x="453.2" y="142.2">3,63</text>
<text x="522.1" y="140.9">3,50</text>
<text x="591.7" y="231.7">2,88</text>
<text x="653.8" y="256.6">2,88</text>
<text x="726.0" y="254.7">2,63</text>
<text x="791.0" y="303.5">2,50</text>
<text x="865.8" y="284.9">2,50</text>
<text x="932.1" y="210.8">3,14</text>
<text x="996.6" y="325.3">2,00</text>
</g>
<g font-size="14" fill="#000" text-anchor="end">
<text x="64.5" y="59">4,50</text>
<text x="64.5" y="114">4,00</text>
<text x="64.5" y="169">3,50</text>
<text x="64.5" y="224">3,00</text>
<text x="64.5" y="280">2,50</text>
<text x="64.5" y="335">2,00</text>
<text x="64.5" y="390">1,50</text>
<text x="64.5" y="446">1,00</text>
<text x="64.5" y="501">0,50</text>
<text x="64.5" y="556">0,00</text>
</g>
<g font-size="14" fill="#000" text-anchor="middle">
<text x="110.1" y="577">1</text>
<text x="178.2" y="577">2</text>
<text x="246.4" y="577">3</text>
<text x="314.5" y="577">4</text>
<text x="382.6" y="577">5</text>
<text x="450.8" y="577">6</text>
<text x="518.9" y="577">7</text>
<text x="587.1" y="577">8</text>
<text x="655.2" y="577">9</text>
<text x="723.4" y="577">10</text>
<text x="791.5" y="577">11</text>
<text x="859.6" y="577">12</text>
<text x="927.8" y="577">13</text>
<text x="995.9" y="577">14</text>
</g>
<text x="521" y="37" font-size="17" font-weight="bold" text-anchor="middle">52</text>
<text x="996" y="601" font-size="14" font-weight="bold" text-anchor="middle" letter-spacing="0.5">Domande</text>
<text transform="translate(22,296.7) rotate(-90)" font-size="14.5" font-weight="bold" text-anchor="middle">Valori</text>
<text x="870" y="87" font-size="15" font-weight="bold" letter-spacing="0.25" style="font-family:'Liberation Serif',serif">Media del CdL</text>
</svg></body></html>
